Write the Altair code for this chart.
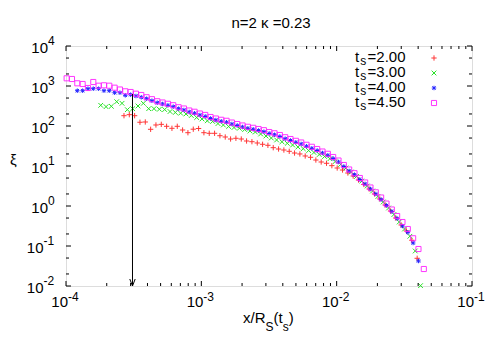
import altair as alt
import pandas as pd

# ---------------- data ----------------
x_t400 = [1.212e-4, 1.327e-4, 1.453e-4, 1.591e-4, 1.742e-4, 1.908e-4, 2.088e-4, 2.287e-4, 2.504e-4, 2.742e-4,
          3.002e-4, 3.287e-4, 3.599e-4, 3.941e-4, 4.315e-4, 4.724e-4, 5.173e-4, 5.664e-4, 6.201e-4, 6.790e-4,
          7.434e-4, 8.140e-4, 8.914e-4, 9.761e-4, 1.069e-3, 1.170e-3, 1.281e-3, 1.403e-3, 1.536e-3, 1.682e-3,
          1.842e-3, 2.017e-3, 2.208e-3, 2.418e-3, 2.648e-3, 2.899e-3, 3.174e-3, 3.475e-3, 3.805e-3, 4.166e-3,
          4.561e-3, 4.994e-3, 5.468e-3, 5.988e-3, 6.556e-3, 7.178e-3, 7.859e-3, 8.605e-3, 9.423e-3, 1.032e-2,
          1.130e-2, 1.237e-2, 1.354e-2, 1.483e-2, 1.624e-2, 1.778e-2, 1.947e-2, 2.131e-2, 2.334e-2, 2.556e-2,
          2.798e-2, 3.064e-2, 3.355e-2, 3.674e-2, 4.022e-2]
xi_t400 = [763, 763, 856, 856, 856, 763, 763, 680, 680, 585,
           606, 562, 522, 481, 429, 382, 355, 329, 304, 271,
           251, 224, 208, 188, 173, 154, 141, 131, 124, 112,
           103, 94.4, 87.6, 82.7, 77.2, 72.0, 64.9, 60.3, 54.6, 48.1,
           43.4, 39.1, 35.5, 31.1, 27.7, 24.4, 21.1, 18.5, 15.4, 12.6,
           9.72, 7.50, 6.06, 4.60, 3.55, 2.66, 2.00, 1.45, 1.03, 0.729,
           0.487, 0.316, 0.220, 0.119, 0.0422]

x_t450 = [1.011e-4, 1.107e-4] + x_t400 + [4.405e-2]
xi_t450 = [1557, 1496,
           1168, 1122, 891, 1259, 1017, 1041, 1017, 907, 817, 737,
           708, 642, 596,
           524, 468, 416, 387, 359, 331, 295,
           274, 244, 227, 205, 189, 168, 154, 143, 135, 122,
           112, 103, 95.5, 90.1, 84.1, 78.5, 70.7, 65.7, 59.5, 52.4,
           47.3, 42.6, 38.7, 33.9, 30.2, 26.6, 23.0, 20.2, 16.8, 13.7,
           10.6, 8.18, 6.61,
           5.01, 3.87, 2.90, 2.20, 1.63, 1.15, 0.818,
           0.562, 0.398, 0.266, 0.156, 0.0841, 0.0266]

x_t300 = [1.805e-4, 1.977e-4, 2.163e-4, 2.369e-4, 2.594e-4, 2.841e-4, 3.110e-4, 3.405e-4, 3.729e-4, 4.083e-4,
          4.470e-4, 4.894e-4, 5.359e-4, 5.868e-4, 6.424e-4, 7.034e-4, 7.702e-4, 8.433e-4, 9.235e-4, 1.011e-3,
          1.107e-3, 1.212e-3, 1.327e-3, 1.454e-3, 1.591e-3, 1.743e-3, 1.908e-3, 2.090e-3, 2.287e-3, 2.505e-3,
          2.743e-3, 3.003e-3, 3.288e-3, 3.600e-3, 3.942e-3, 4.316e-3, 4.725e-3, 5.174e-3, 5.665e-3, 6.204e-3,
          6.792e-3, 7.436e-3, 8.142e-3, 8.915e-3, 9.762e-3, 1.069e-2, 1.171e-2, 1.282e-2, 1.403e-2, 1.536e-2,
          1.682e-2, 1.842e-2, 2.017e-2, 2.208e-2, 2.418e-2, 2.648e-2, 2.899e-2, 3.174e-2, 3.476e-2, 3.806e-2,
          4.167e-2]
xi_t300 = [329, 304, 311, 405, 369, 256, 271, 316, 369, 271,
           271, 262, 258, 230, 218, 209, 200, 183, 163, 150,
           135, 130, 115, 106, 97.2, 91.7, 87.6, 81.7, 75.0, 70.8,
           63.1, 56.2, 50.1, 44.7, 40.3, 36.9, 33.5, 29.9, 27.1, 24.4,
           21.8, 19.4, 17.3, 15.2, 13.0, 10.9, 8.91, 7.08, 5.47, 4.22,
           3.16, 2.37, 1.73, 1.26, 0.891, 0.613, 0.398, 0.266, 0.175, 0.0750,
           0.0102]

x_t200 = [2.682e-4, 2.936e-4, 3.215e-4, 3.520e-4, 3.854e-4, 4.220e-4, 4.620e-4, 5.059e-4, 5.539e-4, 6.065e-4,
          6.641e-4, 7.270e-4, 7.961e-4, 8.718e-4, 9.546e-4, 1.045e-3, 1.144e-3, 1.253e-3, 1.372e-3, 1.502e-3,
          1.645e-3, 1.801e-3, 1.973e-3, 2.159e-3, 2.365e-3, 2.590e-3, 2.835e-3, 3.104e-3, 3.399e-3, 3.721e-3,
          4.074e-3, 4.461e-3, 4.884e-3, 5.348e-3, 5.856e-3, 6.412e-3, 7.020e-3, 7.686e-3, 8.416e-3, 9.216e-3,
          1.009e-2, 1.105e-2, 1.210e-2, 1.324e-2, 1.450e-2, 1.588e-2, 1.739e-2, 1.904e-2, 2.084e-2, 2.283e-2,
          2.500e-2, 2.736e-2, 2.997e-2, 3.281e-2, 3.593e-2, 3.934e-2]
xi_t200 = [181, 192, 181, 124, 126, 82.7, 106, 110, 98.3, 87.6,
           98.3, 79.4, 68.0, 83.2, 86.6, 68.0, 65.7, 65.7, 57.2, 53.1,
           47.3, 49.3, 47.3, 42.2, 40.5, 37.6, 34.9, 32.9, 28.7, 26.6,
           25.1, 23.3, 21.1, 20.0, 17.8, 16.5, 14.1, 12.6, 11.7, 10.2,
           8.91, 7.94, 6.68, 5.62, 4.47, 3.45, 2.66, 2.00, 1.50, 1.06,
           0.750, 0.501, 0.335, 0.237, 0.139, 0.0493]

legend_labels = ["2.00", "3.00", "4.00", "4.50"]
title_text = "n=2 \u03ba =0.23"

x_label_exps = [-4, -3, -2, -1]
y_label_exps = [-2, -1, 0, 1, 2, 3, 4]
x_minor = [2e-4, 3e-4, 4e-4, 5e-4, 6e-4, 7e-4, 8e-4, 9e-4,
           2e-3, 3e-3, 4e-3, 5e-3, 6e-3, 7e-3, 8e-3, 9e-3,
           2e-2, 3e-2, 4e-2, 5e-2, 6e-2, 7e-2, 8e-2, 9e-2]
y_minor = [2e-2, 5e-2, 2e-1, 5e-1, 2, 5, 20, 50, 200, 500, 2000, 5000]

arrow_x = [3.1e-4]
arrow_top = [630]
arrow_bottom = [0.01]

# ---------------- styling ----------------
W, H = 406, 240
FONT = "Liberation Sans"
FS, FS_SMALL = 15, 12
xs = alt.Scale(type="log", domain=[1e-4, 0.1], nice=False)
ys = alt.Scale(type="log", domain=[1e-2, 1e4], nice=False)

PLUS = "M-1,0L1,0M0,-1L0,1"
CROSS = "M-1,-1L1,1M-1,1L1,-1"
STAR = "M-1,0L1,0M0,-1L0,1M-0.75,-0.75L0.75,0.75M-0.75,0.75L0.75,-0.75"
SQUARE = "M-1,-1L1,-1L1,1L-1,1Z"

series = [
    (x_t200, xi_t200, PLUS, "#ff2020", 28),
    (x_t300, xi_t300, CROSS, "#10e010", 22),
    (x_t400, xi_t400, STAR, "#1010ff", 20),
    (x_t450, xi_t450, SQUARE, "#ff20ff", 26),
]

one = pd.DataFrame({"a": [0]})
layers = []


def X(field):
    return alt.X(field, scale=xs, axis=None)


def Y(field):
    return alt.Y(field, scale=ys, axis=None)


# data points
for xv, yv, shape, col, size in series:
    df = pd.DataFrame({"x": xv, "xi": yv})
    layers.append(alt.Chart(df).mark_point(shape=shape, filled=False, color=col, strokeWidth=1,
                                            size=size, opacity=0.9).encode(x=X("x:Q"), y=Y("xi:Q")))

# arrow
adf = pd.DataFrame({"x": arrow_x, "top": arrow_top, "bot": arrow_bottom})
layers.append(alt.Chart(adf).mark_rule(color="black", strokeWidth=1).encode(
    x=X("x:Q"), y=Y("top:Q"), y2="bot:Q"))
layers.append(alt.Chart(adf).mark_point(shape="M-0.386,-1L0,0L0.386,-1", filled=False, color="black",
                                         strokeWidth=1, size=196, opacity=1).encode(x=X("x:Q"), y=Y("bot:Q")))

# ticks (inward, mirrored)
xmaj = pd.DataFrame({"v": [10.0 ** e for e in x_label_exps]})
xmin = pd.DataFrame({"v": x_minor})
ymaj = pd.DataFrame({"v": [10.0 ** e for e in y_label_exps]})
ymin = pd.DataFrame({"v": y_minor})
for d, ln in ((xmaj, 5), (xmin, 3)):
    layers.append(alt.Chart(d).mark_rule(color="black", strokeWidth=1).encode(
        x=X("v:Q"), y=alt.value(H), y2=alt.value(H - ln)))
    layers.append(alt.Chart(d).mark_rule(color="black", strokeWidth=1).encode(
        x=X("v:Q"), y=alt.value(0), y2=alt.value(ln)))
for d, ln in ((ymaj, 5), (ymin, 3)):
    layers.append(alt.Chart(d).mark_rule(color="black", strokeWidth=1).encode(
        y=Y("v:Q"), x=alt.value(0), x2=alt.value(ln)))
    layers.append(alt.Chart(d).mark_rule(color="black", strokeWidth=1).encode(
        y=Y("v:Q"), x=alt.value(W), x2=alt.value(W - ln)))

# tick labels
xl = pd.DataFrame({"v": [10.0 ** e for e in x_label_exps], "e": [str(e) for e in x_label_exps]})
layers.append(alt.Chart(xl).mark_text(align="right", baseline="alphabetic", dx=2, font=FONT, fontSize=FS,
                                      color="black").encode(x=X("v:Q"), y=alt.value(H + 21), text=alt.value("10")))
layers.append(alt.Chart(xl).mark_text(align="left", baseline="alphabetic", dx=2, font=FONT, fontSize=FS_SMALL,
                                      color="black").encode(x=X("v:Q"), y=alt.value(H + 15), text="e:N"))

for sel, xr in ((lambda e: e >= 0, -18), (lambda e: e < 0, -22.5)):
    ex = [e for e in y_label_exps if sel(e)]
    yl = pd.DataFrame({"v": [10.0 ** e for e in ex], "e": [str(e) for e in ex]})
    layers.append(alt.Chart(yl).mark_text(align="right", baseline="alphabetic", dy=7, font=FONT, fontSize=FS,
                                          color="black").encode(y=Y("v:Q"), x=alt.value(xr), text=alt.value("10")))
    layers.append(alt.Chart(yl).mark_text(align="left", baseline="alphabetic", dy=-1, font=FONT,
                                          fontSize=FS_SMALL, color="black").encode(
        y=Y("v:Q"), x=alt.value(xr), text="e:N"))


def txt(s, x, y, size=FS, align="left"):
    return alt.Chart(one).mark_text(align=align, baseline="alphabetic", font=FONT, fontSize=size,
                                    color="black").encode(x=alt.value(x), y=alt.value(y), text=alt.value(s))


# title, axis titles
layers.append(txt(title_text, 205, -18, align="center"))
layers.append(txt("\u03be", -52.7, 119, align="center"))
layers.append(txt("x/R", 177, 277))
layers.append(txt("S", 199.5, 285, FS_SMALL))
layers.append(txt("(t", 207.5, 277))
layers.append(txt("s", 216.7, 285, FS_SMALL))
layers.append(txt(")", 222.7, 277))

# legend
for i, (lab, (_, _, shape, col, size)) in enumerate(zip(legend_labels, series)):
    yb = 15.7 + 15 * i
    layers.append(txt("t", 289, yb))
    layers.append(txt("s", 294.3, yb + 3.5, FS_SMALL))
    layers.append(txt("=" + lab, 301.6, yb))
    layers.append(alt.Chart(one).mark_point(shape=shape, filled=False, color=col, strokeWidth=1, size=size,
                                            opacity=0.9).encode(x=alt.value(368), y=alt.value(12 + 15 * i)))

chart = alt.layer(*layers).properties(
    width=W, height=H,
    autosize=alt.AutoSizeParams(type="none"),
    padding={"left": 58, "top": 38, "right": 20, "bottom": 50},
).configure_view(stroke="black", strokeWidth=1).configure(background="white")

chart.save("out.html", embed_options={"renderer": "svg", "actions": False})
